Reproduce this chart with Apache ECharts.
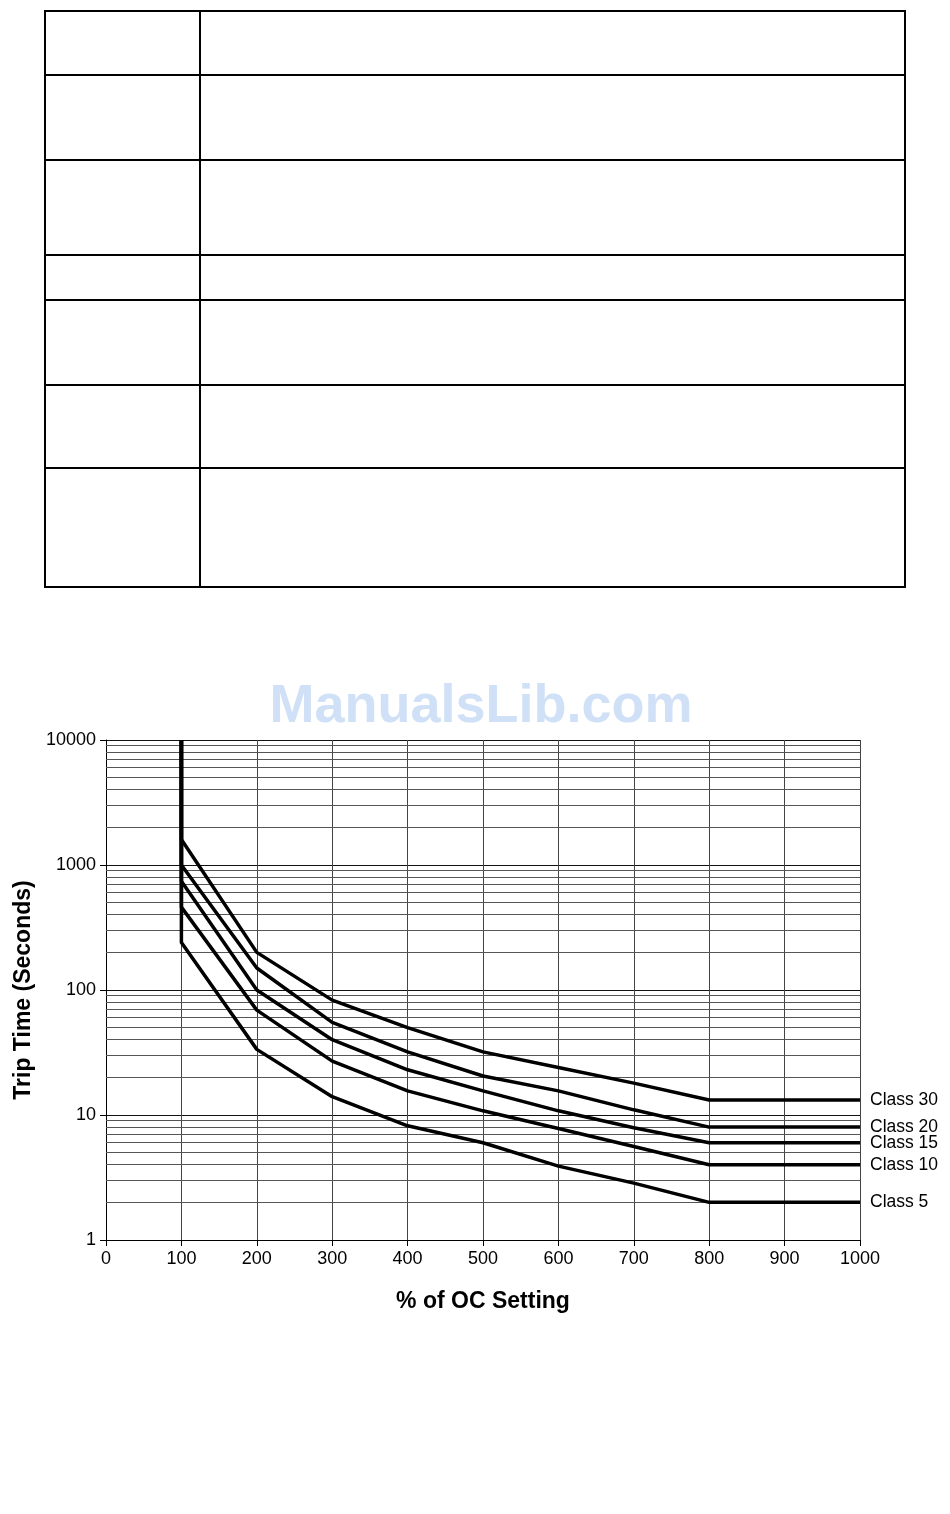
<!DOCTYPE html>
<html>
<head>
<meta charset="utf-8">
<title>Trip Time vs % of OC Setting</title>
<script src="https://cdn.jsdelivr.net/npm/echarts@6/dist/echarts.min.js"></script>
<style>
  html, body { margin: 0; padding: 0; background: #fff; }
  #main { width: 950px; height: 1514px; }
</style>
</head>
<body>
<div id="main"></div>
<script>
// points along the x axis (% of OC setting)
const percentOC = [100, 200, 300, 400, 500, 600, 700, 800, 1000]

// trip time in seconds
const class30 = [1600, 200, 83, 50, 32, 24, 18, 13.2, 13.2]
const class20 = [1000, 150, 55, 32, 20.5, 15.6, 11, 8, 8]
const class15 = [740, 100, 40, 23, 15.6, 10.8, 7.9, 6, 6]
const class10 = [460, 69, 27, 15.6, 10.8, 7.8, 5.6, 4, 4]
const class5 = [240, 33.5, 14, 8.2, 6, 3.9, 2.85, 2, 2]

const classNames = ['Class 30', 'Class 20', 'Class 15', 'Class 10', 'Class 5']
const classValues = [class30, class20, class15, class10, class5]

// every curve rises straight up the 100% line to the top of the chart
const verticalTop = 10000

// light grid lines between the decades
const minorGrid = [
  2, 3, 4, 5, 6, 7, 8, 9,
  20, 30, 40, 50, 60, 70, 80, 90,
  200, 300, 400, 500, 600, 700, 800, 900,
  2000, 3000, 4000, 5000, 6000, 7000, 8000, 9000
]

// empty table at the top of the page (row edges)
const tableRows = [11, 75, 160, 255, 300, 385, 468, 587]

const FONT = '"Liberation Sans", Arial, Helvetica, sans-serif'

const chart = echarts.init(document.getElementById('main'))

// table lines
const tableGraphics = []
tableGraphics.push({
  type: 'rect',
  shape: { x: 45, y: tableRows[0], width: 860, height: tableRows[tableRows.length - 1] - tableRows[0] },
  style: { fill: 'none', stroke: '#000', lineWidth: 2 }
})
tableGraphics.push({
  type: 'line',
  shape: { x1: 200, y1: tableRows[0], x2: 200, y2: tableRows[tableRows.length - 1] },
  style: { stroke: '#000', lineWidth: 2 }
})
tableRows.slice(1, -1).forEach(y => {
  tableGraphics.push({
    type: 'line',
    shape: { x1: 45, y1: y, x2: 905, y2: y },
    style: { stroke: '#000', lineWidth: 2 }
  })
})

const classSeries = classNames.map((name, i) => ({
  name,
  type: 'line',
  data: [[100, verticalTop]].concat(percentOC.map((x, j) => [x, classValues[i][j]])),
  symbol: 'none',
  z: 5,
  lineStyle: { color: '#000', width: 3.5 },
  endLabel: {
    show: true,
    formatter: '{a}',
    distance: 10,
    fontSize: 17.5,
    fontFamily: FONT,
    color: '#000'
  }
}))

const option = {
  animation: false,
  backgroundColor: '#fff',
  textStyle: { fontFamily: FONT },
  graphic: tableGraphics.concat([{
    type: 'text',
    x: 481,
    y: 680,
    style: {
      text: 'ManualsLib.com',
      font: 'bold 54px ' + FONT,
      fill: '#cfe0f7',
      align: 'center'
    }
  }]),
  grid: { left: 106, right: 90, top: 740, bottom: 274 },
  xAxis: {
    type: 'value',
    min: 0,
    max: 1000,
    interval: 100,
    name: '% of OC Setting',
    nameLocation: 'middle',
    nameGap: 50,
    nameTextStyle: { fontSize: 23, fontWeight: 'bold', color: '#000', fontFamily: FONT },
    axisLine: { show: true, lineStyle: { color: '#000', width: 1 } },
    axisTick: { show: true, length: 6, lineStyle: { color: '#000' } },
    axisLabel: { fontSize: 18, color: '#000', margin: 10, fontFamily: FONT, formatter: v => String(v) },
    splitLine: { show: true, lineStyle: { color: '#444', width: 1 } }
  },
  yAxis: {
    type: 'log',
    logBase: 10,
    min: 1,
    max: 10000,
    name: 'Trip Time (Seconds)',
    nameLocation: 'middle',
    nameGap: 65,
    nameTextStyle: { fontSize: 23, fontWeight: 'bold', color: '#000', fontFamily: FONT },
    axisLine: { show: true, lineStyle: { color: '#000', width: 1 } },
    axisTick: { show: true, length: 6, lineStyle: { color: '#000' } },
    axisLabel: { fontSize: 18, color: '#000', margin: 10, fontFamily: FONT, formatter: v => String(v) },
    splitLine: { show: true, lineStyle: { color: '#111', width: 1 } }
  },
  series: [{
    name: 'minor grid',
    type: 'line',
    data: [],
    silent: true,
    z: 1,
    markLine: {
      silent: true,
      symbol: ['none', 'none'],
      label: { show: false },
      lineStyle: { color: '#555', width: 1, type: 'solid' },
      emphasis: { disabled: true },
      data: minorGrid.map(v => ({ yAxis: v }))
    }
  }].concat(classSeries)
}

chart.setOption(option)
</script>
</body>
</html>
